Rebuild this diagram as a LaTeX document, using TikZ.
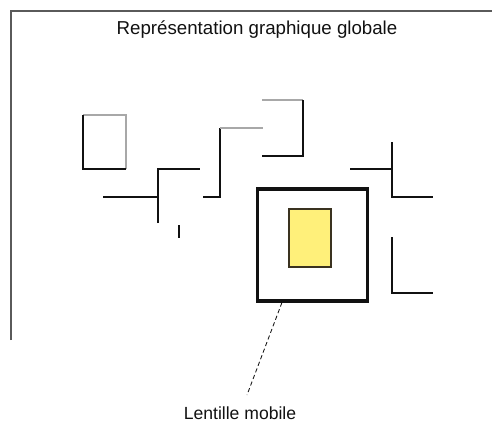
\documentclass[tikz,border=0pt]{standalone}
\usepackage{fontspec}
\setmainfont{Liberation Sans}
\usetikzlibrary{calc,positioning}
\definecolor{planInk}  {HTML}{111111}
\definecolor{planHair} {HTML}{A8A8A8}
\definecolor{planEdge} {HTML}{5A5A5A}
\definecolor{lensFill} {HTML}{FFF07A}
\definecolor{lensEdge} {HTML}{3A3220}

\begin{document}
\begin{tikzpicture}[x=0.025cm, y=-0.025cm,
  every node/.style ={font=\fontsize{12.5}{14}\selectfont, text=planInk},
  frm/.style        ={line width=1.1pt, planEdge},
  wall/.style       ={line width=1.5pt, planInk},
  hair/.style       ={line width=0.8pt, planHair},
  housing/.style    ={draw=planInk, line width=2.3pt, fill=white, minimum width=2.75cm, minimum height=2.8cm, inner sep=0pt},
  glass/.style      ={draw=lensEdge, line width=0.8pt, fill=lensFill, minimum width=1.05cm, minimum height=1.45cm, inner sep=0pt},
  lead/.style       ={densely dashed, line width=0.6pt, planInk},
]
\useasboundingbox (0,0) rectangle (492,423);

% cadre
\draw[frm] (11,340) -- (11,11) -- (492,11);
\node[font=\fontsize{13.3}{15}\selectfont] (title) at (257,30) {Représentation graphique globale};

% cloisons
\draw[hair] (83,115) -- (126,115) -- (126,169);
\draw[wall] (126,169) -- (83,169) -- (83,115);
\draw[wall] (103,197) -- (158,197);
\draw[wall] (158,223) -- (158,169) -- (200,169);
\draw[wall] (179,225) -- (179,238);
\draw[wall] (203,197) -- (220,197) -- (220,128);
\draw[hair] (220,128) -- (263,128);
\draw[hair] (262,100) -- (303,100);
\draw[wall] (303,100) -- (303,156) -- (262,156);
\draw[wall] (350,169) -- (392,169);
\draw[wall] (392,142) -- (392,197) -- (433,197);
\draw[wall] (392,237) -- (392,293) -- (433,293);

% lentille
\node[housing] (lens)  at (312.5,245) {};
\node[glass]   (glass) at (310,238) {};
\node (lbl) at (240,413) {Lentille mobile};
\coordinate (tip)  at ($(lens.south west)!0.23!(lens.south east)$);
\coordinate (foot) at (247,395);
\draw[lead] (tip) -- (foot);

\end{tikzpicture}
\end{document}
